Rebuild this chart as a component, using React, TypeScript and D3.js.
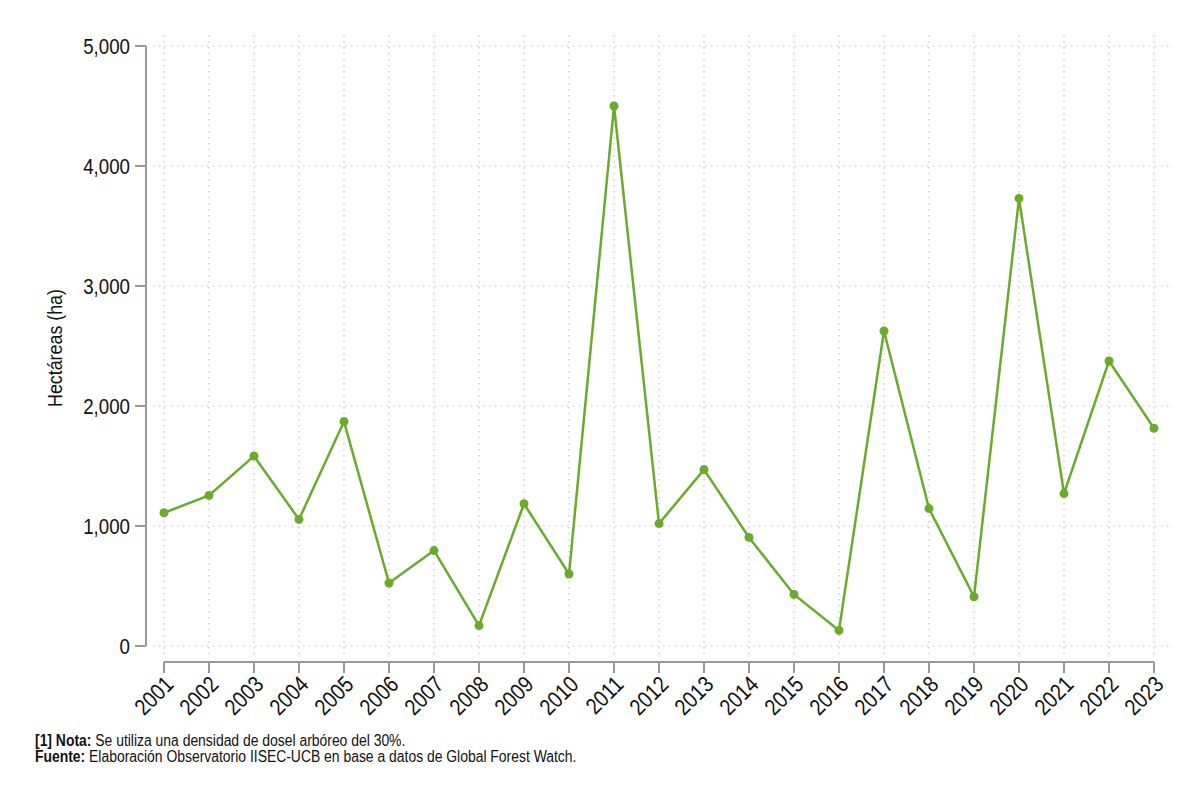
import React from "react";
import * as d3 from "d3";

const years = ["2001","2002","2003","2004","2005","2006","2007","2008","2009","2010","2011","2012","2013","2014","2015","2016","2017","2018","2019","2020","2021","2022","2023"];
const values = [1110,1255,1583,1055,1870,525,795,170,1185,600,4500,1020,1470,905,430,130,2625,1145,410,3730,1270,2375,1815];
const yTicks = [0,1000,2000,3000,4000,5000];

const FONT = "'Liberation Sans', Arial, sans-serif";
const SX = 0.85;

export default function App() {
  const W = 1200, H = 800;
  const x = d3.scalePoint<string>().domain(years).range([164, 1154]);
  const y = d3.scaleLinear().domain([0, 5000]).range([646, 46]);
  const line = d3.line<number>().x((_, i) => x(years[i])!).y(d => y(d));
  const fmt = d3.format(",");
  const green = "#6aaa2c";
  return (
    <svg width={W} height={H} style={{ position: "absolute", left: 0, top: 0, background: "#fff" }} fontFamily={FONT}>
      {/* grid */}
      {yTicks.map(t => (
        <line key={"gy" + t} x1={153} x2={1172} y1={y(t)} y2={y(t)} stroke="#c4c4c4" strokeWidth={1.2} strokeDasharray="1.5,4.5" />
      ))}
      {years.map(yr => (
        <line key={"gx" + yr} x1={x(yr)} x2={x(yr)} y1={35} y2={657} stroke="#c4c4c4" strokeWidth={1.2} strokeDasharray="1.5,4.5" />
      ))}
      {/* y axis */}
      <line x1={146} x2={146} y1={y(5000)} y2={y(0)} stroke="#999" strokeWidth={2} />
      {yTicks.map(t => (
        <g key={"yt" + t}>
          <line x1={135} x2={146} y1={y(t)} y2={y(t)} stroke="#999" strokeWidth={2} />
          <text transform={`translate(130,${y(t)}) scale(${SX},1)`} dy="0.36em" textAnchor="end" fontSize={22} fill="#111">{fmt(t)}</text>
        </g>
      ))}
      <text transform={`translate(62,${y(2500) + 2}) rotate(-90) scale(${SX},1)`} textAnchor="middle" fontSize={21} fill="#111">Hectáreas (ha)</text>
      {/* x axis */}
      <line x1={x(years[0])} x2={x(years[years.length - 1])} y1={662} y2={662} stroke="#999" strokeWidth={2} />
      {years.map(yr => (
        <g key={"xt" + yr}>
          <line x1={x(yr)} x2={x(yr)} y1={662} y2={673} stroke="#999" strokeWidth={2} />
          <text transform={`translate(${x(yr)! + 5},${680}) rotate(-45) scale(${SX},1)`} textAnchor="end" dy="0.36em" fontSize={23} fill="#111">{yr}</text>
        </g>
      ))}
      {/* line */}
      <path d={line(values)!} fill="none" stroke={green} strokeWidth={2.5} />
      {values.map((v, i) => (
        <circle key={"p" + i} cx={x(years[i])} cy={y(v)} r={4.5} fill={green} />
      ))}
      {/* notes */}
      <text transform={`translate(35,746) scale(0.87,1)`} fontSize={16} fill="#111"><tspan fontWeight="bold">[1] Nota:</tspan> Se utiliza una densidad de dosel arbóreo del 30%.</text>
      <text transform={`translate(35,762) scale(0.87,1)`} fontSize={16} fill="#111"><tspan fontWeight="bold">Fuente:</tspan> Elaboración Observatorio IISEC-UCB en base a datos de Global Forest Watch.</text>
    </svg>
  );
}
